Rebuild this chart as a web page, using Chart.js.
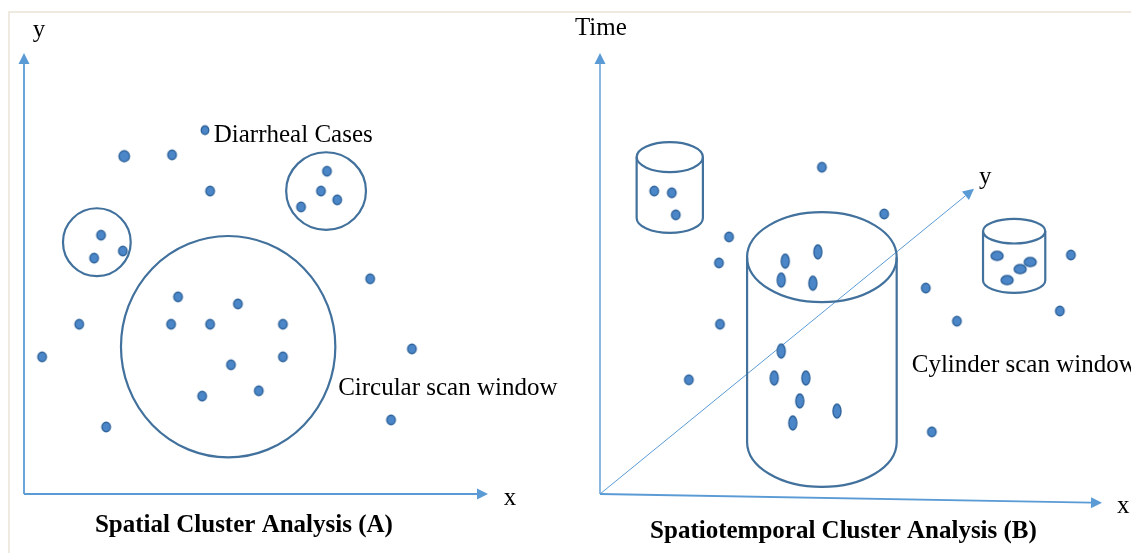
<!DOCTYPE html>
<html><head><meta charset="utf-8">
<script src="https://cdn.jsdelivr.net/npm/chart.js@4/dist/chart.umd.min.js"></script>
<style>
html,body{margin:0;padding:0;background:#fff;overflow:hidden}
#wrap{position:relative;width:1131px;height:553px;background:#fff}
#frame{position:absolute;left:8px;top:11px;width:1131px;height:560px;border-left:2px solid #eeeae0;border-top:2px solid #eeeae0}
canvas{position:absolute;top:0}
</style></head>
<body><div id="wrap"><div id="frame"></div>
<canvas id="chartA" width="560" height="553" style="left:0"></canvas>
<canvas id="chartB" width="571" height="553" style="left:560px"></canvas>
</div>
<script>
// ---------- Panel A: spatial cluster analysis (x, y in 0..100 axis units) ----------
const caseAX = [21.6,31.9,40.1,65.3,64.0,67.5,59.7,16.6,21.3,15.1,74.6,33.2,46.1,11.9,31.7,40.1,55.8,3.9,55.8,44.6,83.6,50.6,38.4,79.1,17.7];
const caseAY = [76.6,76.9,68.7,73.2,68.7,66.7,65.1,58.7,55.1,53.5,48.8,44.7,43.1,38.5,38.5,38.5,38.5,31.1,31.1,29.3,32.9,23.4,22.2,16.8,15.2];
const legendAX = [39.0];
const legendAY = [82.5];
// circular scan windows: centre and radii in axis units
const circleCX = [15.7,65.1,44.0];
const circleCY = [57.1,68.7,33.4];
const circleRX = [7.3,8.6,23.1];
const circleRY = [7.7,8.8,25.1];
const labelsA = {yAxis:'y', xAxis:'x', legend:'Diarrheal Cases', window:'Circular scan window', caption:'Spatial Cluster Analysis (A)'};

// ---------- Panel B: spatiotemporal cluster analysis (x, time in 0..100 axis units) ----------
const caseBX = [44.2,56.6,25.7,23.7,10.8,14.3,15.1,93.8,64.9,71.1,91.6,23.9,17.7,66.1];
const caseBY = [74.1,63.5,58.3,52.4,68.7,68.3,63.3,54.2,46.7,39.2,41.5,38.5,25.9,14.1];
const bigCylX = [36.9,43.4,36.1,42.4,36.1,34.7,41.0,39.8,47.2,38.4];
const bigCylY = [52.8,54.9,48.5,47.8,32.4,26.3,26.3,21.1,18.8,16.1];
const rightCylX = [79.1,85.7,83.7,81.1];
const rightCylY = [54.0,52.6,51.0,48.5];
// cylinder scan windows: centre x, top & bottom time, radii
const cylCX = [13.9,44.2,82.5];
const cylTop = [76.4,53.7,59.6];
const cylBottom = [62.6,11.8,48.4];
const cylRX = [6.6,14.9,6.2];
const cylRY = [3.4,10.2,2.8];
// axis end points (origin at 0,0)
const axisB = {time:[0,100], y:[74.5,69.2], x:[100,-2.0]};
const labelsB = {time:'Time', yAxis:'y', xAxis:'x', window:'Cylinder scan window', caption:'Spatiotemporal Cluster Analysis (B)'};

// ---------- styles ----------
const DOT_FILL = '#4a86c8', DOT_EDGE = '#2f639b', SHAPE = '#41719c', AXIS = '#5b9bd5';
const FONT = '"Liberation Serif","Times New Roman",serif';

function dotImage(w, h){
  const c = document.createElement('canvas');
  c.width = Math.ceil(w + 4); c.height = Math.ceil(h + 4);
  const g = c.getContext('2d');
  g.beginPath();
  g.ellipse(c.width/2, c.height/2, w/2, h/2, 0, 0, Math.PI*2);
  g.fillStyle = DOT_FILL; g.fill();
  g.lineWidth = 1.4; g.strokeStyle = DOT_EDGE; g.stroke();
  return c;
}
const dotN = dotImage(8.5, 9.5), dotBig = dotImage(10.5, 11), dotLeg = dotImage(7.5, 8.5);
const dotV = dotImage(8, 14), dotH = dotImage(12, 9);

function pts(xs, ys){ return xs.map((x,i)=>({x:x, y:ys[i]})); }

function arrow(ctx, x0, y0, x1, y1, lw){
  const a = Math.atan2(y1-y0, x1-x0), L = 11, H = 5.5;
  const bx = x1 - L*Math.cos(a), by = y1 - L*Math.sin(a);
  ctx.save();
  ctx.strokeStyle = AXIS; ctx.fillStyle = AXIS; ctx.lineWidth = lw;
  ctx.beginPath(); ctx.moveTo(x0, y0); ctx.lineTo(bx, by); ctx.stroke();
  ctx.beginPath();
  ctx.moveTo(x1, y1);
  ctx.lineTo(bx + H*Math.sin(a), by - H*Math.cos(a));
  ctx.lineTo(bx - H*Math.sin(a), by + H*Math.cos(a));
  ctx.closePath(); ctx.fill();
  ctx.restore();
}
function text(ctx, s, x, y, bold, align){
  ctx.save();
  ctx.font = (bold ? 'bold ' : '') + '25px ' + FONT;
  ctx.fillStyle = '#000'; ctx.textAlign = align || 'left'; ctx.textBaseline = 'alphabetic';
  ctx.fillText(s, x, y);
  ctx.restore();
}

const baseOpts = {
  responsive:false, animation:false, devicePixelRatio:1,
  plugins:{legend:{display:false}, tooltip:{enabled:false}},
  scales:{x:{type:'linear', min:0, max:100, display:false}, y:{type:'linear', min:0, max:100, display:false}}
};

// ---------- Chart A ----------
const panelA = {
  id:'panelA',
  beforeDatasetsDraw(chart){
    const {ctx, scales:{x, y}} = chart;
    const X = v => x.getPixelForValue(v), Y = v => y.getPixelForValue(v);
    arrow(ctx, X(0), Y(0), X(0), Y(100), 1.8);
    arrow(ctx, X(0), Y(0), X(100), Y(0), 1.8);
    ctx.save(); ctx.strokeStyle = SHAPE; ctx.lineWidth = 2.2;
    circleCX.forEach((cx,i)=>{
      ctx.beginPath();
      ctx.ellipse(X(cx), Y(circleCY[i]), Math.abs(X(circleRX[i])-X(0)), Math.abs(Y(circleRY[i])-Y(0)), 0, 0, Math.PI*2);
      ctx.stroke();
    });
    ctx.restore();
  },
  afterDraw(chart){
    const {ctx, scales:{x, y}} = chart;
    const X = v => x.getPixelForValue(v), Y = v => y.getPixelForValue(v);
    text(ctx, labelsA.yAxis, X(1.9), Y(103.6));
    text(ctx, labelsA.xAxis, X(103.4), Y(-2.5));
    text(ctx, labelsA.legend, X(40.9), Y(79.9));
    text(ctx, labelsA.window, X(67.7), Y(22.4));
    text(ctx, labelsA.caption, X(47.4), Y(-8.6), true, 'center');
  }
};
new Chart(document.getElementById('chartA'), {
  type:'scatter',
  data:{datasets:[
    {label:'Diarrheal Cases', data:pts(caseAX, caseAY), clip:false,
     pointStyle:ctx=>ctx.dataIndex===0?dotBig:dotN, pointRadius:5},
    {label:'legend', data:pts(legendAX, legendAY), clip:false, pointStyle:dotLeg, pointRadius:4}
  ]},
  options:Object.assign({}, baseOpts, {layout:{padding:{left:24, top:53, right:72, bottom:59}}}),
  plugins:[panelA]
});

// ---------- Chart B ----------
const panelB = {
  id:'panelB',
  beforeDatasetsDraw(chart){
    const {ctx, scales:{x, y}} = chart;
    const X = v => x.getPixelForValue(v), Y = v => y.getPixelForValue(v);
    arrow(ctx, X(0), Y(0), X(axisB.time[0]), Y(axisB.time[1]), 1.4);
    arrow(ctx, X(0), Y(0), X(axisB.y[0]), Y(axisB.y[1]), 1.0);
    arrow(ctx, X(0), Y(0), X(axisB.x[0]), Y(axisB.x[1]), 1.8);
    ctx.save(); ctx.strokeStyle = SHAPE; ctx.lineWidth = 2.2;
    cylCX.forEach((cx,i)=>{
      const px = X(cx), rx = Math.abs(X(cylRX[i])-X(0)), ry = Math.abs(Y(cylRY[i])-Y(0));
      const yt = Y(cylTop[i]), yb = Y(cylBottom[i]);
      ctx.beginPath(); ctx.ellipse(px, yt, rx, ry, 0, 0, Math.PI*2); ctx.stroke();
      ctx.beginPath(); ctx.moveTo(px-rx, yt); ctx.lineTo(px-rx, yb);
      ctx.ellipse(px, yb, rx, ry, 0, Math.PI, 0, true);
      ctx.lineTo(px+rx, yt); ctx.stroke();
    });
    ctx.restore();
  },
  afterDraw(chart){
    const {ctx, scales:{x, y}} = chart;
    const X = v => x.getPixelForValue(v), Y = v => y.getPixelForValue(v);
    text(ctx, labelsB.time, X(-5.0), Y(104.1));
    text(ctx, labelsB.yAxis, X(75.5), Y(70.4));
    text(ctx, labelsB.xAxis, X(103.0), Y(-4.3));
    text(ctx, labelsB.window, X(62.1), Y(27.7));
    text(ctx, labelsB.caption, X(48.5), Y(-10.0), true, 'center');
  }
};
new Chart(document.getElementById('chartB'), {
  type:'scatter',
  data:{datasets:[
    {label:'cases', data:pts(caseBX, caseBY), clip:false, pointStyle:dotN, pointRadius:5},
    {label:'cases in large cylinder', data:pts(bigCylX, bigCylY), clip:false, pointStyle:dotV, pointRadius:7},
    {label:'cases in right cylinder', data:pts(rightCylX, rightCylY), clip:false, pointStyle:dotH, pointRadius:6}
  ]},
  options:Object.assign({}, baseOpts, {layout:{padding:{left:40, top:53, right:29, bottom:59}}}),
  plugins:[panelB]
});
</script>
</body></html>
